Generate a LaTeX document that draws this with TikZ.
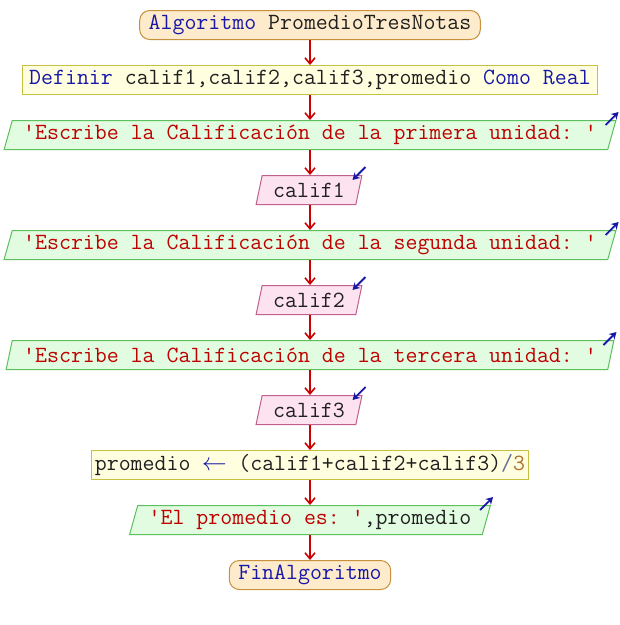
\documentclass[tikz,border=0pt]{standalone}
\usepackage{fontspec}
\setmonofont{Latin Modern Mono}
\usetikzlibrary{shapes.geometric}
\usetikzlibrary{arrows.meta}

\newcommand{\asigna}{\makebox[24pt]{$\leftarrow$}}

\begin{document}
\begin{tikzpicture}[x=1pt, y=-1pt]

\definecolor{clave}{HTML}{1818A8}
\definecolor{cadena}{HTML}{C00000}
\definecolor{texto}{HTML}{202020}
\definecolor{flujo}{HTML}{CC0000}
\definecolor{iniborde}{HTML}{C8903C}
\definecolor{inifondo}{HTML}{FDEBCC}
\definecolor{procborde}{HTML}{C8C040}
\definecolor{procfondo}{HTML}{FFFFE0}
\definecolor{salborde}{HTML}{5CC05C}
\definecolor{salfondo}{HTML}{E2FCE2}
\definecolor{entborde}{HTML}{C0608C}
\definecolor{entfondo}{HTML}{FDE2F0}
\definecolor{divide}{HTML}{6070A0}
\definecolor{numero}{HTML}{B07030}

\tikzset{base/.style={font=\ttfamily\fontsize{23.2}{26}\selectfont, text=texto, minimum height=29pt, inner ysep=0pt, line width=1pt}}
\tikzset{inicio/.style={base, draw=iniborde, fill=inifondo, rounded corners=10pt, inner xsep=9pt}}
\tikzset{proceso/.style={base, draw=procborde, fill=procfondo, inner xsep=7pt}}
\tikzset{salida/.style={base, draw=salborde, fill=salfondo, trapezium, trapezium left angle=67.5, trapezium right angle=112.5, trapezium stretches body, inner xsep=11pt}}
\tikzset{entrada/.style={salida, draw=entborde, fill=entfondo}}
\tikzset{flecha/.style={draw=flujo, line width=1.6pt, -{Straight Barb[length=6pt, width=10pt, line width=1.6pt]}}}
\tikzset{flechaes/.style={draw=clave, line width=1.8pt, -{Stealth[length=7pt, width=8pt]}}}

\useasboundingbox (0,0) rectangle (620,625);

\node[inicio] (ini) at (310,25) {\textcolor{clave}{Algoritmo} PromedioTresNotas};
\node[proceso] (def) at (310,80) {\textcolor{clave}{Definir} calif1,calif2,calif3,promedio \textcolor{clave}{Como Real}};

\node[salida] (esc1) at (310,135) {\textcolor{cadena}{'Escribe la Calificación de la primera unidad: '}};
\node[entrada] (lee1) at (309,190) {calif1};
\node[salida] (esc2) at (310,245) {\textcolor{cadena}{'Escribe la Calificación de la segunda unidad: '}};
\node[entrada] (lee2) at (309,300) {calif2};
\node[salida] (esc3) at (310,355) {\textcolor{cadena}{'Escribe la Calificación de la tercera unidad: '}};
\node[entrada] (lee3) at (309,410) {calif3};

\node[proceso, inner xsep=3pt] (asig) at (310,465) {promedio \textcolor{clave}{\asigna} (calif1+calif2+calif3)\textcolor{divide}{/}\textcolor{numero}{3}};
\node[salida] (esc4) at (310,520) {\textcolor{cadena}{'El promedio es: '},promedio};
\node[inicio] (fin) at (310,575) {\textcolor{clave}{FinAlgoritmo}};

% flujo
\foreach \a/\b in {ini/def, def/esc1, esc1/lee1, lee1/esc2, esc2/lee2, lee2/esc3, esc3/lee3, lee3/asig, asig/esc4, esc4/fin}
  \draw[flecha] (\a.south -| ini.south) -- (\b.north -| ini.south);

% marcas de entrada y salida
\foreach \n in {esc1, esc2, esc3, esc4}
  \draw[flechaes] ([shift={(-11,5)}]\n.top right corner) -- ++(13,-13);
\foreach \n in {lee1, lee2, lee3}
  \draw[flechaes] ([shift={(3,-8)}]\n.top right corner) -- ++(-13,13);

\end{tikzpicture}
\end{document}
